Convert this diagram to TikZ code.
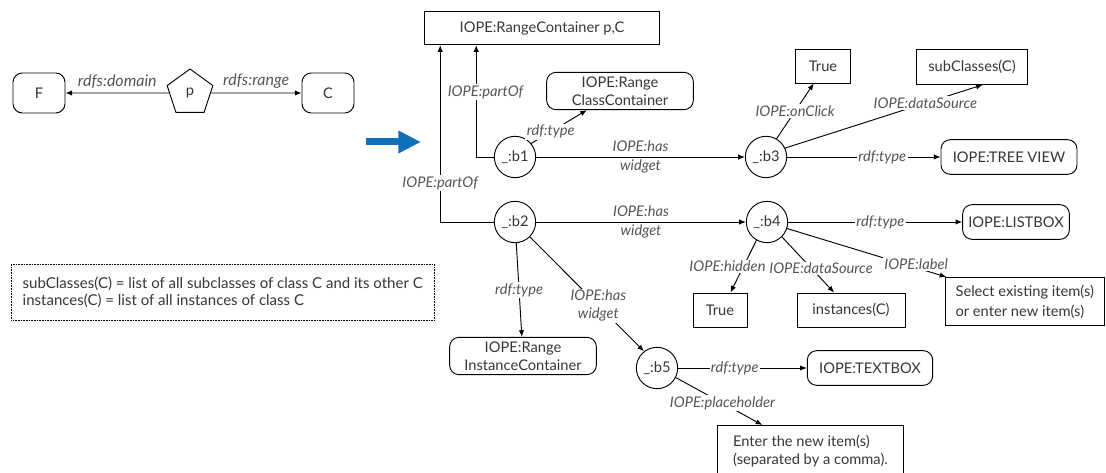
\documentclass[tikz,border=0pt]{standalone}
\usepackage{fontspec}
\setmainfont{Lato}
\usetikzlibrary{shapes.geometric,arrows.meta}
\definecolor{txtgray}{HTML}{363636}
\definecolor{labgray}{HTML}{555555}
\definecolor{arrowblue}{HTML}{0F71BA}
\begin{document}
\begin{tikzpicture}[x=0.75pt,y=-0.75pt,line width=0.7pt,
	every node/.style={text=txtgray,font=\fontsize{11}{13.5}\selectfont},
	box/.style={draw,minimum height=25.5pt,inner sep=2pt},
	rbox/.style={box,rounded corners=7pt},
	blank/.style={circle,draw,minimum size=31pt,inner sep=1pt},
	lab/.style={text=labgray,font=\fontsize{11}{13.5}\selectfont\itshape,inner sep=1pt,align=center},
	wlab/.style={lab,fill=white},
	arr/.style={-{Latex[length=5pt,width=4pt]}}]
\useasboundingbox (0,0) rectangle (1106,473);
\node[rbox,minimum width=39pt,minimum height=30pt] (F) at (39,93) {F};
\node[draw,regular polygon,regular polygon sides=5,minimum size=36pt,inner sep=0pt] (p) at (190,93) {p};
\node[rbox,minimum width=39pt,minimum height=30pt] (C) at (328,93) {C};
\draw[arr] (p) -- node[lab,above=2pt,font=\fontsize{12}{14}\selectfont\itshape]{rdfs:domain} (F);
\draw[arr] (p) -- node[lab,above=2pt,font=\fontsize{12}{14}\selectfont\itshape]{rdfs:range} (C);
\draw[arrowblue,line width=5.25pt,-{Triangle[length=17pt,width=16pt]}] (366,142) -- (421,142);
% range container
\node[box,minimum width=176pt,minimum height=25pt] (rc) at (542,28) {IOPE:RangeContainer p,C};
\node[rbox,minimum width=110pt,minimum height=28pt,align=center,inner sep=0pt] (rcc) at (620,91) {IOPE:Range\\ClassContainer};
\node[rbox,minimum width=110pt,minimum height=28pt,align=center,inner sep=0pt] (ric) at (523,356) {IOPE:Range\\InstanceContainer};
\node[blank] (b1) at (515,157) {\_:b1};
\node[blank] (b2) at (515,222) {\_:b2};
\node[blank] (b3) at (766,157) {\_:b3};
\node[blank] (b4) at (767,222) {\_:b4};
\node[blank] (b5) at (657,368) {\_:b5};
% widget values
\node[box,minimum width=41pt] (t1) at (823,66) {True};
\node[box,minimum width=83pt,minimum height=26pt] (subc) at (972,67) {subClasses(C)};
\node[rbox,minimum width=102pt,minimum height=26pt] (tree) at (1009,157) {IOPE:TREE VIEW};
\node[rbox,minimum width=80pt,minimum height=26pt] (list) at (1016,222) {IOPE:LISTBOX};
\node[box,minimum width=40.5pt] (t2) at (720,310) {True};
\node[box,minimum width=81pt] (inst) at (851,310) {instances(C)};
\node[box,anchor=north west,minimum width=119pt,minimum height=36pt,align=left] (sel) at (945,277) {Select existing item(s)\\[1.5pt]or enter new item(s)};
\node[rbox,minimum width=94pt,minimum height=26pt] (tbox) at (870,368) {IOPE:TEXTBOX};
\node[box,anchor=north west,minimum width=139.5pt,minimum height=38pt,align=left] (ent) at (717,425) {Enter the new item(s)\\(separated by a comma).};
\node[draw,line width=0.6pt,dash pattern=on 0.6pt off 0.6pt,anchor=north west,minimum width=317pt,minimum height=42pt,align=left,font=\fontsize{11.25}{12.75}\selectfont] (legend) at (11,264) {subClasses(C) = list of all subclasses of class C and its other C\\instances(C) = list of all instances of class C};
% edges
\draw[arr] (b1.west) -| node[wlab,pos=0.79,xshift=7pt]{IOPE:partOf} ([xshift=39pt]rc.south west);
\draw[arr] (b2.west) -| node[wlab,pos=0.61]{IOPE:partOf} ([xshift=12pt]rc.south west);
\draw[arr] (b1.40) -- node[wlab,pos=0.35]{rdf:type} (rcc.210);
\draw[arr] (b1) -- node[lab]{IOPE:has\\[1pt]widget} (b3);
\draw[arr] (b3.60) -- node[wlab]{IOPE:onClick} (t1.242);
\draw[arr] (b3.25) -- node[wlab,pos=0.71]{IOPE:dataSource} (subc.301);
\draw[arr] (b3) -- node[wlab,pos=0.62]{rdf:type} (tree);
\draw[arr] (b2) -- node[lab]{IOPE:has\\[1pt]widget} (b4);
\draw[arr] (b4) -- node[wlab,pos=0.53]{rdf:type} (list);
\draw[arr] (b4.240) -- node[wlab,xshift=-12pt]{IOPE:hidden} (t2.59);
\draw[arr] (b4.-45) -- node[wlab,pos=0.57,xshift=7pt]{IOPE:dataSource} (inst.134);
\draw[arr] (b4.-18) -- node[wlab,pos=0.81,yshift=3pt]{IOPE:label} ([xshift=1pt]sel.north west);
\draw[arr] (b2) -- node[wlab]{rdf:type} (ric);
\draw[arr] (b2.-45) -- node[wlab,pos=0.6]{IOPE:has\\widget} (b5.128);
\draw[arr] (b5) -- node[wlab,pos=0.44]{rdf:type} (tbox);
\draw[arr] (b5.-27) -- node[wlab,pos=0.54]{IOPE:placeholder} ([xshift=34pt]ent.north west);
\end{tikzpicture}
\end{document}
